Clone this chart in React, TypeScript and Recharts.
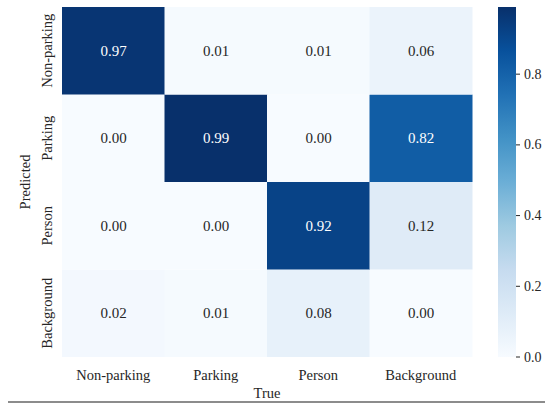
import React from 'react';
import { BarChart, Bar, XAxis, YAxis, Cell, LabelList } from 'recharts';

// Confusion matrix: columns = true class, rows = predicted class
const trueLabels = ['Non-parking', 'Parking', 'Person', 'Background'];
const predictedLabels = ['Non-parking', 'Parking', 'Person', 'Background'];
const predNonParking = [0.97, 0.01, 0.01, 0.06];
const predParking = [0.0, 0.99, 0.0, 0.82];
const predPerson = [0.0, 0.0, 0.92, 0.12];
const predBackground = [0.02, 0.01, 0.08, 0.0];
const colorbarTicks = [0, 0.2, 0.4, 0.6, 0.8];
const vmax = 0.99;

// matplotlib "Blues"
const bluesStops = ['#f7fbff', '#deebf7', '#c6dbef', '#9ecae1', '#6baed6', '#4292c6', '#2171b5', '#08519c', '#08306b'];

const hexToRgb = (h: string) => [1, 3, 5].map((i) => parseInt(h.slice(i, i + 2), 16));

const blues = (v: number) => {
  const t = Math.max(0, Math.min(1, v / vmax)) * (bluesStops.length - 1);
  const i = Math.min(Math.floor(t), bluesStops.length - 2);
  const f = t - i;
  const a = hexToRgb(bluesStops[i]);
  const b = hexToRgb(bluesStops[i + 1]);
  const c = a.map((x, k) => Math.round(x + (b[k] - x) * f));
  return `rgb(${c[0]},${c[1]},${c[2]})`;
};

// bottom-to-top stacking order
const rows = [
  { key: 'Background', values: predBackground },
  { key: 'Person', values: predPerson },
  { key: 'Parking', values: predParking },
  { key: 'Non-parking', values: predNonParking },
];

const data = trueLabels.map((name) => {
  const d: Record<string, string | number> = { name };
  rows.forEach((r) => (d[r.key] = 1));
  return d;
});

const font = '"Liberation Serif", "Times New Roman", serif';
const textColor = '#262626';

const XTick = (p: any) => (
  <text
    x={p.x}
    y={p.y + 10}
    textAnchor="middle"
    dominantBaseline="central"
    style={{ fontFamily: font }}
    fontSize={14.5}
    fill={textColor}
  >
    {p.payload.value}
  </text>
);

const YTick = (p: any) => (
  <text
    x={p.x - 7}
    y={p.y}
    transform={`rotate(-90, ${p.x - 7}, ${p.y})`}
    textAnchor="middle"
    dominantBaseline="central"
    style={{ fontFamily: font }}
    fontSize={14.5}
    fill={textColor}
  >
    {predictedLabels[3 - Math.floor(p.payload.value)]}
  </text>
);

const CbTick = (p: any) => (
  <text x={p.x + 2} y={p.y} dominantBaseline="central" style={{ fontFamily: font }} fontSize={14} fill={textColor}>
    {Number(p.payload.value).toFixed(1)}
  </text>
);

const App: React.FC = () => {
  return (
    <div style={{ position: 'absolute', left: 0, top: 0, width: 545, height: 405, background: '#fff', fontFamily: font }}>
      <div style={{ position: 'absolute', left: 0, top: 0 }}>
        <BarChart
          width={545}
          height={405}
          data={data}
          barCategoryGap={0}
          margin={{ top: 7, right: 73, bottom: 0, left: 0 }}
        >
          <XAxis
            dataKey="name"
            height={48}
            tickLine={false}
            axisLine={false}
            tick={<XTick />}
            label={(props: any) => {
              const vb = props.viewBox;
              return (
                <text
                  x={vb.x + vb.width / 2}
                  y={vb.y + 36}
                  textAnchor="middle"
                  dominantBaseline="central"
                  style={{ fontFamily: font }}
                  fontSize={14.5}
                  fill={textColor}
                >
                  True
                </text>
              );
            }}
          />
          <YAxis
            type="number"
            domain={[0, 4]}
            ticks={[0.5, 1.5, 2.5, 3.5]}
            width={62}
            tickLine={false}
            axisLine={false}
            tick={<YTick />}
            label={(props: any) => {
              const vb = props.viewBox;
              const cx = vb.x + 25;
              const cy = vb.y + vb.height / 2;
              return (
                <text
                  x={cx}
                  y={cy}
                  transform={`rotate(-90, ${cx}, ${cy})`}
                  textAnchor="middle"
                  dominantBaseline="central"
                  style={{ fontFamily: font }}
                  fontSize={14.5}
                  fill={textColor}
                >
                  Predicted
                </text>
              );
            }}
          />
          {rows.map((r) => (
            <Bar key={r.key} dataKey={r.key} stackId="m" isAnimationActive={false}>
              {r.values.map((v, i) => (
                <Cell key={i} fill={blues(v)} />
              ))}
              <LabelList
                dataKey={r.key}
                content={(p: any) => {
                  const v = r.values[p.index];
                  return (
                    <text
                      x={p.x + p.width / 2}
                      y={p.y + p.height / 2}
                      textAnchor="middle"
                      dominantBaseline="central"
                      style={{ fontFamily: font }}
                      fontSize={15}
                      fill={v / vmax > 0.5 ? '#ffffff' : textColor}
                    >
                      {v.toFixed(2)}
                    </text>
                  );
                }}
              />
            </Bar>
          ))}
        </BarChart>
      </div>
      <div style={{ position: 'absolute', left: 490, top: 0 }}>
        <BarChart
          width={55}
          height={405}
          data={[{ name: 'cb', value: vmax }]}
          barCategoryGap={0}
          margin={{ top: 7, right: 0, bottom: 48, left: 8 }}
        >
          <defs>
            <linearGradient id="bluesGrad" x1="0" y1="1" x2="0" y2="0">
              {bluesStops.map((c, i) => (
                <stop key={i} offset={i / (bluesStops.length - 1)} stopColor={c} />
              ))}
            </linearGradient>
          </defs>
          <XAxis dataKey="name" hide />
          <YAxis
            orientation="right"
            type="number"
            domain={[0, vmax]}
            ticks={colorbarTicks}
            width={29}
            axisLine={false}
            tickSize={4}
            tickMargin={2}
            tickLine={{ stroke: textColor }}
            tick={<CbTick />}
          />
          <Bar dataKey="value" fill="url(#bluesGrad)" isAnimationActive={false} />
        </BarChart>
      </div>
      <div style={{ position: 'absolute', left: 8, top: 401, width: 537, height: 2, background: '#8c8c8c' }} />
    </div>
  );
};

export default App;
